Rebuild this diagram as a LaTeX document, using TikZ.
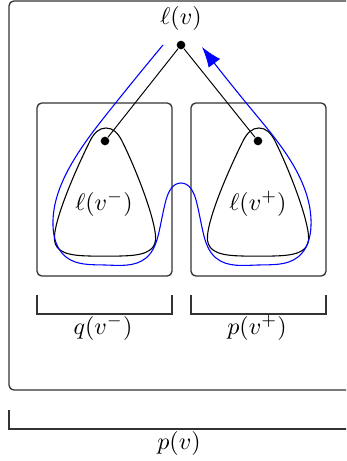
\documentclass[tikz,border=0pt]{standalone}
\usetikzlibrary{arrows.meta,hobby}
\begin{document}
\begin{tikzpicture}[x=0.4167pt,y=-0.4167pt,
  boxline/.style={draw=black!80,line width=0.55pt,rounded corners=2pt},
  brk/.style={draw=black!80,line width=0.55pt},
  dotnode/.style={circle,fill=black,inner sep=0pt,minimum size=3.6pt},
  blob/.style={draw=black,line width=0.45pt},
  walk/.style={draw=blue,line width=0.45pt}]
\useasboundingbox (0,0) rectangle (346,461);
\clip (0,0) rectangle (346,461);
% outer box
\draw[boxline] (9,1) rectangle (380,390);
% inner boxes
\draw[boxline] (37,103) rectangle (172,276);
\draw[boxline] (191,103) rectangle (326,276);
% blobs
\foreach \s in {0,153}{
\begin{scope}[xshift=\s*0.4167pt]
\draw[blob] (106,128) .. controls (113,128) and (118,133) .. (122,141)
  .. controls (134,165) and (153,212) .. (155.5,235)
  .. controls (157,249) and (148,254.5) .. (128,255.7)
  .. controls (118,256.2) and (112,256.2) .. (105,256.2)
  .. controls (98,256.2) and (92,256.2) .. (82,255.7)
  .. controls (62,254.5) and (53,249) .. (54.5,235)
  .. controls (57,212) and (78,165) .. (90,141)
  .. controls (94,133) and (99,128) .. (106,128) -- cycle;
\end{scope}}
% dots and labels
\node[dotnode] (top) at (181,45) {};
\node[dotnode] (dl) at (105,141) {};
\node[dotnode] (dr) at (258,141) {};
\node (lv) at (181,19) {$\ell(v)$};
\node (lvm) at (104,204) {$\ell(v^-)$};
\node (lvp) at (258,204) {$\ell(v^+)$};
\draw (top) -- (dl);
\draw (top) -- (dr);
% blue walk
\draw[walk,-{Latex[length=8.5pt,width=6pt]},use Hobby shortcut] (163,45) .. (110,110) .. (72,163) .. (53,226) .. (66,257) .. (105,265) .. (146,258) .. (159,232) .. (166,200) .. (181,183) .. (196,200) .. (203,232) .. (216,258) .. (258,265) .. (298,257) .. (311,226) .. (292,163) .. (252,110) .. (202,47);
% brackets
\draw[brk] (37,295) -- (37,314) -- (172,314) -- (172,295);
\draw[brk] (191,295) -- (191,314) -- (326,314) -- (326,295);
\draw[brk] (9,410) -- (9,429) -- (380,429);
\node (qvm) at (103,328) {$q(v^-)$};
\node (pvp) at (257,328) {$p(v^+)$};
\node (pv) at (179,443) {$p(v)$};
\end{tikzpicture}
\end{document}
